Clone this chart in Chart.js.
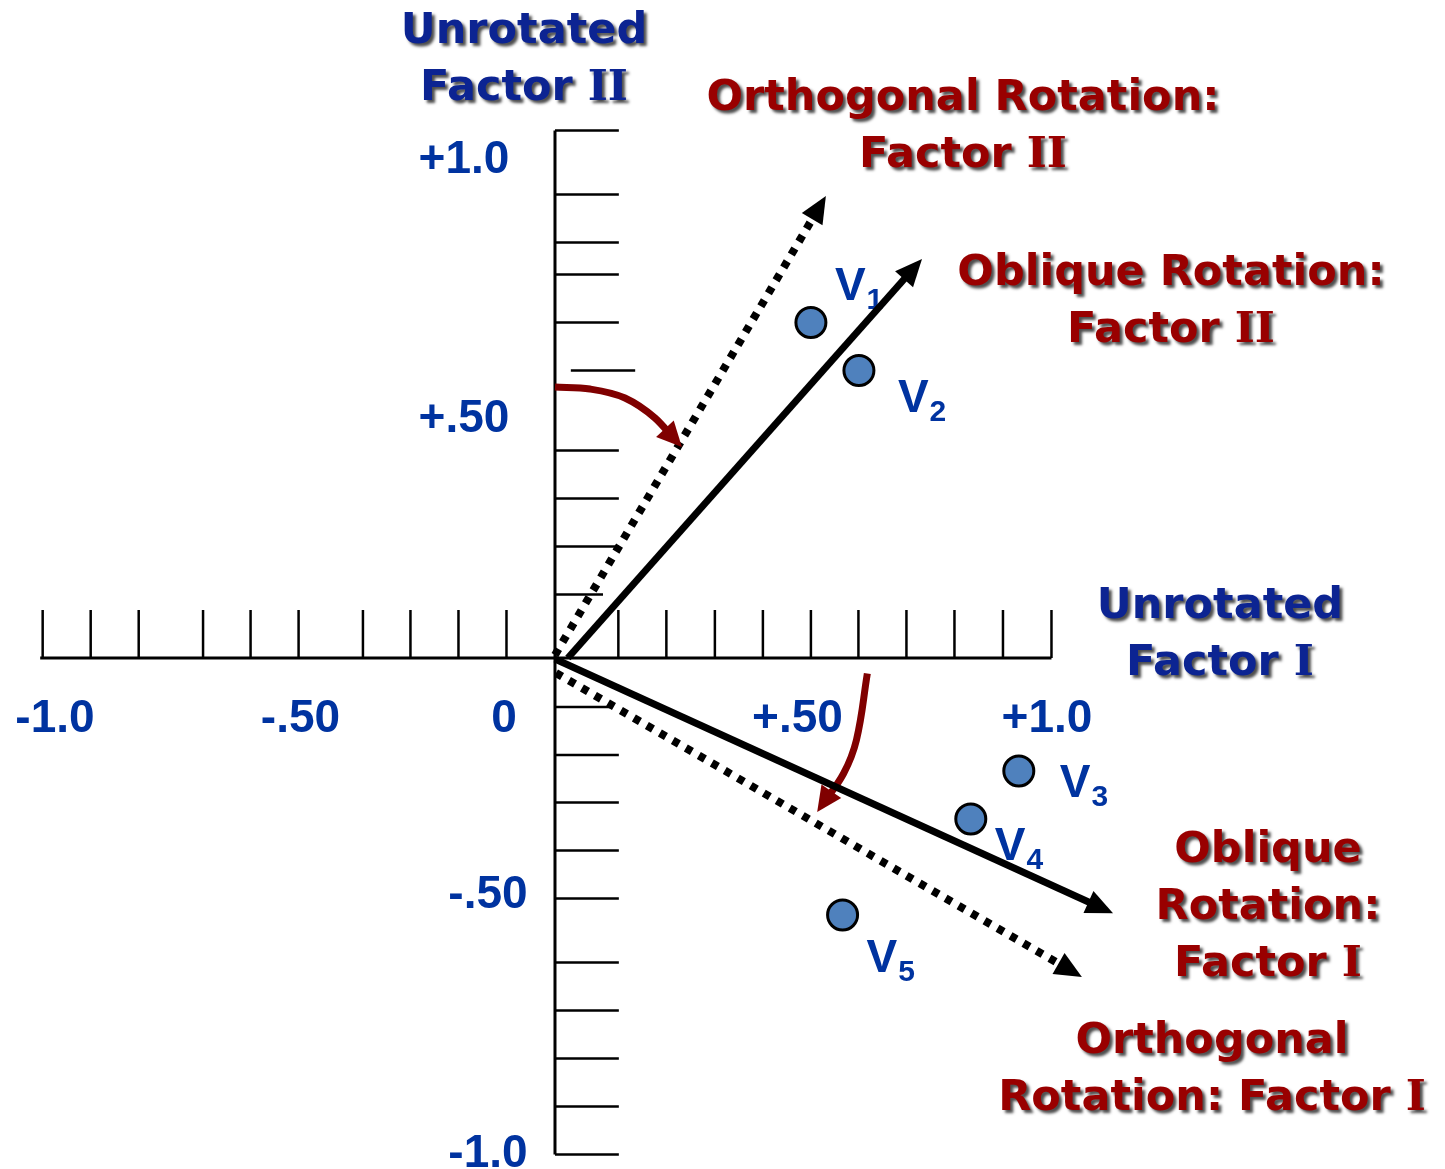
<!DOCTYPE html>
<html>
<head>
<meta charset="utf-8">
<script src="https://cdn.jsdelivr.net/npm/chart.js@4/dist/chart.umd.min.js"></script>
<style>
  html, body { margin: 0; padding: 0; background: #fff; overflow: hidden; }
  #wrap { width: 1445px; height: 1169px; position: relative; }
</style>
</head>
<body>
<div id="wrap"><canvas id="c"></canvas></div>
<script>
// ---------- DATA (values in factor-loading units) ----------
const varLabels = ['V', 'V', 'V', 'V', 'V'];
const varSubscripts = ['1', '2', '3', '4', '5'];
const loadingsFactorI  = [0.517, 0.614, 0.937, 0.840, 0.581];
const loadingsFactorII = [0.671, 0.575, -0.226, -0.322, -0.514];

// axis tick marks as drawn on the picture
const xTicks = [-1.035, -0.938, -0.841, -0.711, -0.615, -0.518, -0.388, -0.292, -0.195, -0.098,
                 0.128, 0.225, 0.323, 0.420, 0.517, 0.613, 0.710, 0.807, 0.905, 1.003];
const yTicks    = [1.055, 0.927, 0.831, 0.767, 0.671, 0.575, 0.415, 0.319, 0.223, 0.127,
                   -0.098, -0.194, -0.289, -0.385, -0.481, -0.609, -0.705, -0.801, -0.897, -0.993];
const yTickFrom = [0, 0, 0, 0, 0, 0.032, 0, 0, 0, 0,  0, 0, 0, 0, 0, 0, 0, 0, 0, 0];
const yTickTo   = [0.129, 0.129, 0.129, 0.129, 0.129, 0.162, 0.129, 0.129, 0.129, 0.097,
                   0.111, 0.129, 0.129, 0.129, 0.129, 0.129, 0.129, 0.129, 0.129, 0.129];
const xAxisExtent = [-1.04, 1.003];
const yAxisExtent = [1.055, -0.993];

// tick labels
const xTickLabels = ['-1.0', '-.50', '0', '+.50', '+1.0'];
const xTickLabelValues = [-1.0, -0.5, 0, 0.5, 1.0];
const yTickLabels = ['+1.0', '+.50', '-.50', '-1.0'];
const yTickLabelValues = [1.0, 0.5, -0.5, -1.0];

// rotated factor axes (start, end)
const orthoFactorII_x   = [0, 0.537];
const orthoFactorII_y   = [0.006, 0.907];
const obliqueFactorII_x = [0.026, 0.728];
const obliqueFactorII_y = [0, 0.783];
const obliqueFactorI_x  = [0, 1.109];
const obliqueFactorI_y  = [-0.002, -0.502];
const orthoFactorI_x    = [0.002, 1.047];
const orthoFactorI_y    = [-0.030, -0.628];

// rotation arcs
const rotArcII_x = [0, 0.0707, 0.1414, 0.202, 0.244];
const rotArcII_y = [0.542, 0.538, 0.520, 0.480, 0.435];
const rotArcI_x  = [0.631, 0.609, 0.583, 0.540];
const rotArcI_y  = [-0.031, -0.164, -0.231, -0.293];

// titles
const titleUnrotatedII = ['Unrotated', 'Factor II'];
const titleOrthoII     = ['Orthogonal Rotation:', 'Factor II'];
const titleObliqueII   = ['Oblique Rotation:', 'Factor II'];
const titleUnrotatedI  = ['Unrotated', 'Factor I'];
const titleObliqueI    = ['Oblique', 'Rotation:', 'Factor I'];
const titleOrthoI      = ['Orthogonal', 'Rotation: Factor I'];

// ---------- STYLE / LAYOUT ----------
const BLUE = '#0033a0';
const NAVY = '#0c2492';
const RED = '#990000';
const ARC_RED = '#800000';
const X_TICK_H = 0.096;

const zip = (xs, ys) => xs.map((x, i) => ({ x, y: ys[i] }));

const datasets = [];
// points (on top)
datasets.push({
  label: 'variables',
  data: zip(loadingsFactorI, loadingsFactorII),
  showLine: false,
  pointRadius: 15,
  pointHoverRadius: 15,
  pointBackgroundColor: '#4f81bd',
  pointBorderColor: '#000',
  pointBorderWidth: 3,
  order: 0
});
// factor arrows
const arrowDefs = [
  { x: orthoFactorII_x, y: orthoFactorII_y, dash: [7, 8], w: 8 },
  { x: obliqueFactorII_x, y: obliqueFactorII_y, dash: [], w: 7 },
  { x: obliqueFactorI_x, y: obliqueFactorI_y, dash: [], w: 7 },
  { x: orthoFactorI_x, y: orthoFactorI_y, dash: [7, 8], w: 8 }
];
arrowDefs.forEach(a => datasets.push({
  data: zip(a.x, a.y), showLine: true, pointRadius: 0, borderColor: '#000',
  borderWidth: a.w, borderDash: a.dash, borderCapStyle: 'butt', clip: false,
  arrow: { color: '#000', len: 27, ext: 10, half: 12 }, order: 1
}));
// rotation arcs
datasets.push({
  data: zip(rotArcII_x, rotArcII_y), showLine: true, pointRadius: 0, borderColor: ARC_RED,
  borderWidth: 7, cubicInterpolationMode: 'monotone', borderCapStyle: 'butt', clip: false,
  arrow: { color: ARC_RED, len: 25, ext: 9, half: 12 }, order: 2
});
datasets.push({
  data: zip(rotArcI_x, rotArcI_y), showLine: true, pointRadius: 0, borderColor: ARC_RED,
  borderWidth: 7, tension: 0.4, borderCapStyle: 'butt', clip: false,
  arrow: { color: ARC_RED, len: 25, ext: 9, half: 12 }, order: 2
});
// axes
datasets.push({ data: [{ x: xAxisExtent[0], y: 0 }, { x: xAxisExtent[1], y: 0 }], showLine: true,
  pointRadius: 0, borderColor: '#000', borderWidth: 3, clip: false, order: 3 });
datasets.push({ data: [{ x: 0, y: yAxisExtent[0] }, { x: 0, y: yAxisExtent[1] }], showLine: true,
  pointRadius: 0, borderColor: '#000', borderWidth: 3, clip: false, order: 3 });
// tick marks
xTicks.forEach(v => datasets.push({ data: [{ x: v, y: 0 }, { x: v, y: X_TICK_H }], showLine: true,
  pointRadius: 0, borderColor: '#000', borderWidth: 2.5, clip: false, order: 3 }));
yTicks.forEach((v, i) => datasets.push({ data: [{ x: yTickFrom[i], y: v }, { x: yTickTo[i], y: v }], showLine: true,
  pointRadius: 0, borderColor: '#000', borderWidth: 2.5, clip: false, order: 3 }));

// label placement tweaks (pixels)
const xLabelDx = [-5, -7, -51, -5, -3];
const xLabelDy = 74;
const yLabelCx = [-91, -91, -67, -67];
const yLabelDy = [15, 24, 0, 9];
const vLabelOffsets = [[24, -23], [39, 41], [41, 26], [24, 41], [24, 57]];
const titleAnchors = [
  { lines: titleUnrotatedII, x: -0.0626, y: 1.23, color: NAVY },
  { lines: titleOrthoII, x: 0.8242, y: 1.096, color: RED },
  { lines: titleObliqueII, x: 1.2444, y: 0.746, color: RED },
  { lines: titleUnrotatedI, x: 1.3434, y: 0.08, color: NAVY },
  { lines: titleObliqueI, x: 1.4404, y: -0.408, color: RED },
  { lines: titleOrthoI, x: 1.3273, y: -0.79, color: RED }
];
const LINE_H = 57;
const SANS_TITLE = 'bold 43px "DejaVu Sans", Verdana, sans-serif';
const SERIF_TITLE = 'bold 43px "DejaVu Serif", serif';

function drawTitleLine(ctx, line, cx, y) {
  // Roman numerals drawn with serifs, as in the original lettering
  const m = line.match(/^(.*\s)(I+)$/);
  const head = m ? m[1] : line;
  const num = m ? m[2] : '';
  ctx.font = SANS_TITLE;
  const wHead = ctx.measureText(head).width;
  ctx.font = SERIF_TITLE;
  const wNum = num ? ctx.measureText(num).width : 0;
  const x0 = cx - (wHead + wNum) / 2;
  ctx.textAlign = 'left';
  ctx.font = SANS_TITLE;
  ctx.fillText(head, x0, y);
  if (num) {
    ctx.font = SERIF_TITLE;
    ctx.fillText(num, x0 + wHead, y);
  }
}

const overlay = {
  id: 'overlay',
  beforeDatasetsDraw(chart) {
    const ctx = chart.ctx;
    const meta = chart.getDatasetMeta(0);
    ctx.save();
    ctx.fillStyle = BLUE;
    ctx.textAlign = 'left';
    ctx.textBaseline = 'alphabetic';
    meta.data.forEach((pt, i) => {
      const [dx, dy] = vLabelOffsets[i];
      const lx = pt.x + dx, ly = pt.y + dy;
      ctx.font = 'bold 46px "Liberation Sans", Arial, sans-serif';
      ctx.fillText(varLabels[i], lx, ly);
      const w = ctx.measureText(varLabels[i]).width;
      ctx.font = 'bold 30px "Liberation Sans", Arial, sans-serif';
      ctx.fillText(varSubscripts[i], lx + w + 1, ly + 9);
    });
    ctx.restore();
  },
  afterDatasetsDraw(chart) {
    const ctx = chart.ctx;
    chart.data.datasets.forEach((ds, i) => {
      if (!ds.arrow) return;
      const pts = chart.getDatasetMeta(i).data;
      const p1 = pts[pts.length - 2], p2 = pts[pts.length - 1];
      let dx = p2.x - p1.x, dy = p2.y - p1.y;
      const L = Math.hypot(dx, dy); dx /= L; dy /= L;
      const a = ds.arrow;
      const tip = { x: p2.x + dx * a.ext, y: p2.y + dy * a.ext };
      const bx = tip.x - dx * a.len, by = tip.y - dy * a.len;
      ctx.save();
      ctx.fillStyle = a.color;
      ctx.beginPath();
      ctx.moveTo(tip.x, tip.y);
      ctx.lineTo(bx - dy * a.half, by + dx * a.half);
      ctx.lineTo(bx + dy * a.half, by - dx * a.half);
      ctx.closePath();
      ctx.fill();
      ctx.restore();
    });
  },
  afterDraw(chart) {
    const ctx = chart.ctx;
    const xs = chart.scales.x, ys = chart.scales.y;
    const x0 = xs.getPixelForValue(0), y0 = ys.getPixelForValue(0);
    ctx.save();
    ctx.font = 'bold 46px "Liberation Sans", Arial, sans-serif';
    ctx.fillStyle = BLUE;
    ctx.textAlign = 'center';
    ctx.textBaseline = 'alphabetic';
    xTickLabels.forEach((t, i) => {
      ctx.fillText(t, xs.getPixelForValue(xTickLabelValues[i]) + xLabelDx[i], y0 + xLabelDy);
    });
    yTickLabels.forEach((t, i) => {
      ctx.fillText(t, x0 + yLabelCx[i], ys.getPixelForValue(yTickLabelValues[i]) + yLabelDy[i]);
    });
    ctx.restore();

    ctx.save();
    ctx.textBaseline = 'alphabetic';
    ctx.shadowColor = 'rgba(0,0,0,0.7)';
    ctx.shadowOffsetX = 3;
    ctx.shadowOffsetY = 3;
    ctx.shadowBlur = 3;
    titleAnchors.forEach(t => {
      const px = xs.getPixelForValue(t.x), py = ys.getPixelForValue(t.y);
      ctx.fillStyle = t.color;
      t.lines.forEach((line, k) => drawTitleLine(ctx, line, px, py + k * LINE_H));
    });
    ctx.restore();
  }
};

new Chart(document.getElementById('c'), {
  type: 'scatter',
  data: { datasets },
  options: {
    responsive: true,
    maintainAspectRatio: false,
    devicePixelRatio: 1,
    animation: false,
    layout: { padding: 0, autoPadding: false },
    plugins: { legend: { display: false }, tooltip: { enabled: false }, title: { display: false } },
    events: [],
    scales: {
      x: { type: 'linear', min: -1.1212, max: 1.798, display: false },
      y: { type: 'linear', min: -1.022, max: 1.316, display: false }
    }
  },
  plugins: [overlay]
});
</script>
</body>
</html>
